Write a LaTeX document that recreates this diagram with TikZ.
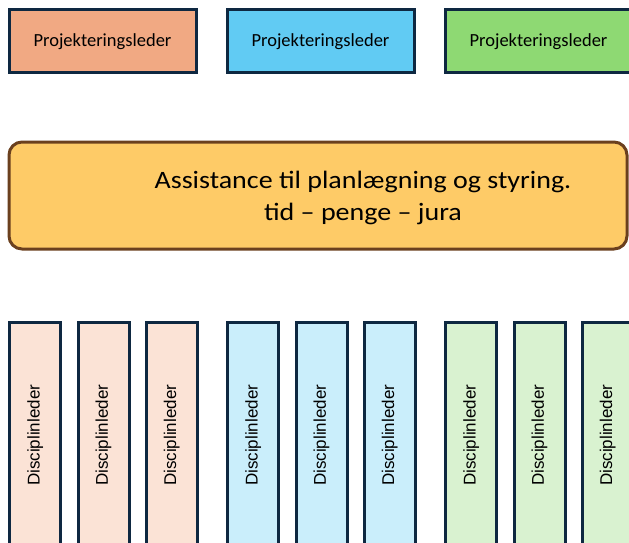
\documentclass[tikz,border=0pt]{standalone}
\usepackage{fontspec}
\setmainfont{Liberation Sans}
\newfontfamily\aptosfont{Carlito}
\newfontfamily\aptoswide[FakeStretch=1.12]{Carlito}
\definecolor{navy}{HTML}{0E2841}
\definecolor{topor}{HTML}{F1A983}
\definecolor{topbl}{HTML}{61CBF3}
\definecolor{topgr}{HTML}{8ED973}
\definecolor{lsal}{HTML}{FBE3D6}
\definecolor{lblu}{HTML}{CAEEFB}
\definecolor{lgre}{HTML}{D9F2D0}
\definecolor{gold}{HTML}{FECB67}
\definecolor{brownb}{HTML}{6B401E}
\begin{document}
\begin{tikzpicture}[x=1pt,y=-1pt,
  lead/.style={draw=navy, line width=3pt, minimum width=187pt, minimum height=63pt,
    inner sep=0pt, anchor=north west, font=\aptosfont\fontsize{18.5}{21}\selectfont},
  bigbox/.style={draw=brownb, line width=3pt, fill=gold, rounded corners=13pt,
    minimum width=618pt, minimum height=107pt, inner sep=0pt, anchor=north west},
  bigtext/.style={font=\aptoswide\fontsize{25}{32}\selectfont, align=center, inner sep=0pt},
  bar/.style={draw=navy, line width=3pt, minimum width=51pt, minimum height=226pt,
    inner sep=0pt, anchor=north west, font=\fontsize{17}{20}\selectfont}]
\useasboundingbox (0,0) rectangle (629,543);
\clip (0,0) rectangle (629,543);
\fill[white] (0,0) rectangle (629,543);
\node[lead, fill=topor] (p1) at (7.5,8.5) {Projekteringsleder};
\node[lead, fill=topbl] (p2) at (225.5,8.5) {Projekteringsleder};
\node[lead, fill=topgr] (p3) at (443.5,8.5) {Projekteringsleder};
\node[bigbox] (a) at (7.5,140.5) {};
\node[bigtext] (at) at (363,198) {Assistance til planlægning og styring.\\tid – penge – jura};
\foreach \g/\col in {0/lsal,1/lblu,2/lgre}{
  \foreach \k in {0,1,2}{
    \pgfmathsetmacro\xx{8.2+218*\g+68.3*\k}
    \node[bar, fill=\col] (d\g\k) at (\xx,320.8) {\rotatebox{90}{Disciplinleder}};
  }
}
\end{tikzpicture}
\end{document}
